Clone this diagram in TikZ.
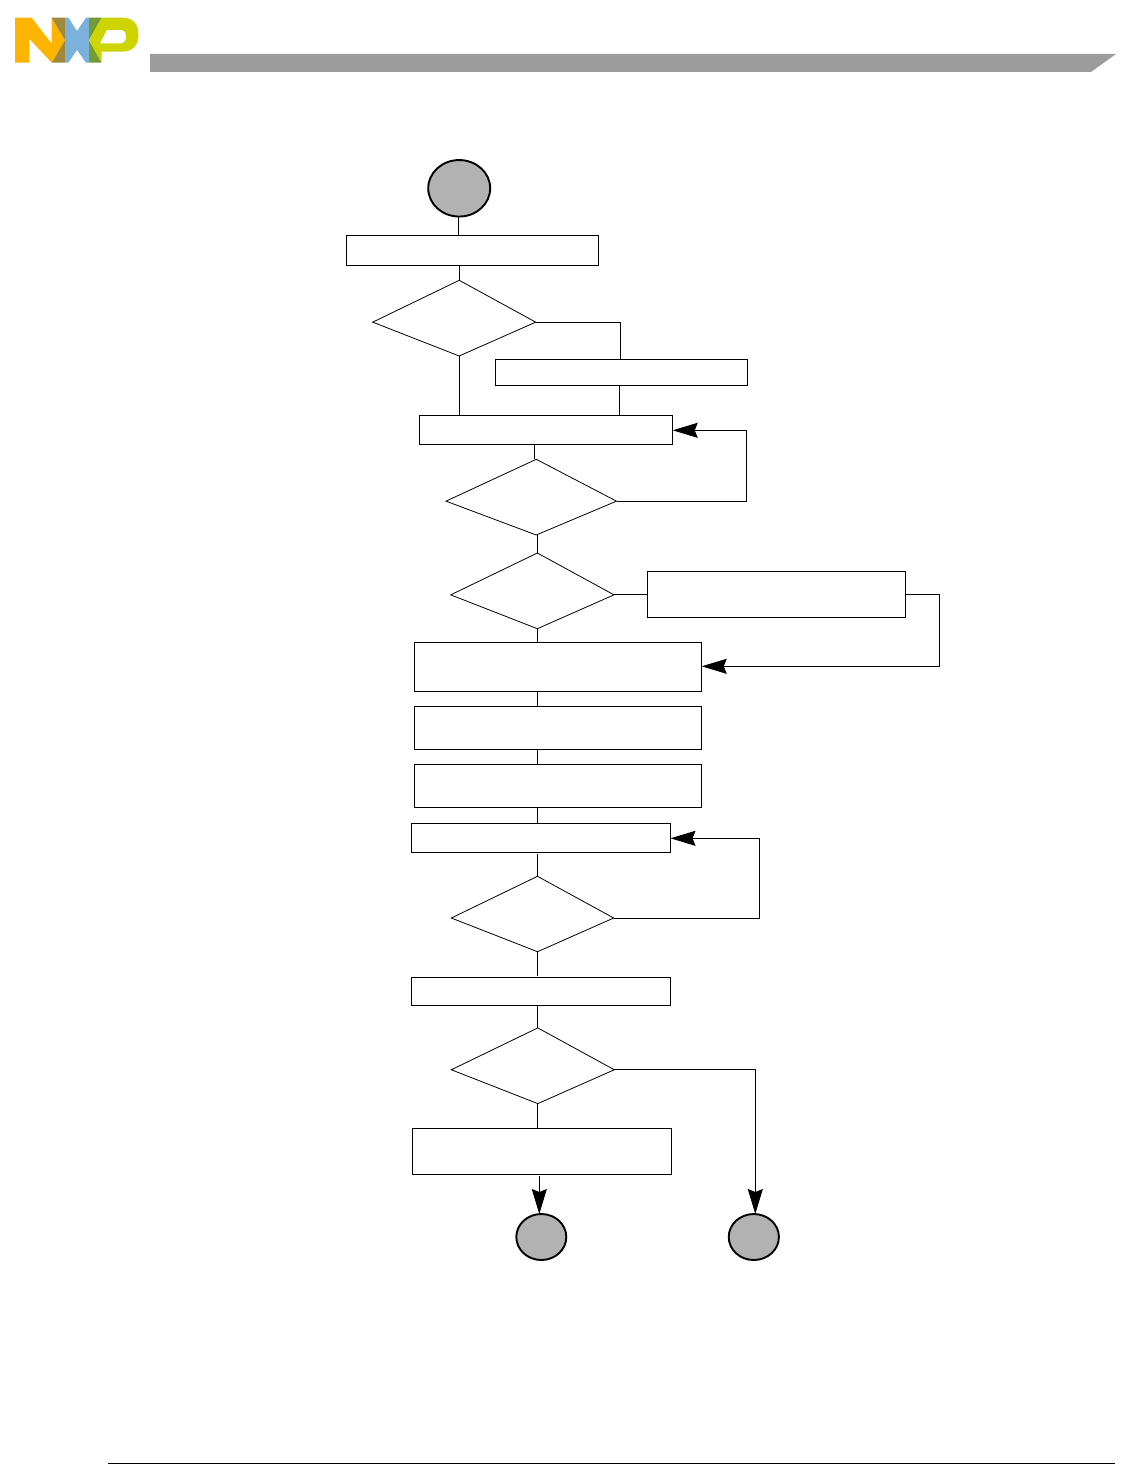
\documentclass[tikz,border=0pt]{standalone}
\usetikzlibrary{arrows.meta,shapes.geometric,calc}
\definecolor{hdrgray}{HTML}{9C9C9C}
\definecolor{capgray}{HTML}{B2B2B2}
\definecolor{nxporange}{HTML}{FFB500}
\definecolor{nxpolive}{HTML}{9E8A3A}
\definecolor{nxpblue}{HTML}{7BB1DB}
\definecolor{nxpgreen}{HTML}{739B35}
\definecolor{nxplime}{HTML}{CDD400}
\tikzset{
  boxnode/.style={rectangle,draw=black,line width=1pt,fill=white,inner sep=0pt,outer sep=0pt},
  capnode/.style={ellipse,draw=black,line width=1.9pt,fill=capgray,inner sep=0pt,outer sep=0pt},
  dianode/.style={rectangle,inner sep=0pt,outer sep=0pt},
  dialine/.style={draw=black,line width=0.8pt,line join=miter},
  link/.style={draw=black,line width=0.9pt},
  linkarrow/.style={link,-{Stealth[length=25pt,width=15pt,inset=3pt]}},
}
\newcommand{\diaoutline}[1]{%
  \coordinate (#1w) at ([yshift=-4pt]#1.west);
  \coordinate (#1e) at ([yshift=-4pt]#1.east);
  \coordinate (#1n) at ([xshift=5pt]#1.north);
  \coordinate (#1s) at ([xshift=5pt]#1.south);
  \draw[dialine] (#1w) -- (#1n) -- (#1e) -- (#1s) -- cycle;
}
\begin{document}
\begin{tikzpicture}[x=1pt,y=-1pt]
\useasboundingbox (0,0) rectangle (1127,1471);
% logo
\fill[nxporange] (15,17.7) -- (31.7,17.7) -- (51.7,43.7) -- (51.7,17.7) -- (65,40.3) -- (51.7,62.7) -- (29.3,38.7) -- (29.3,62.7) -- (15,62.7) -- cycle;
\fill[nxpolive] (51.7,17.7) -- (65,17.7) -- (65,40.3) -- cycle;
\fill[nxpolive] (51.7,62.7) -- (65,40.3) -- (65,62.7) -- cycle;
\fill[nxpblue] (65,17.7) -- (68.5,17.7) -- (77,31) -- (86,17.7) -- (89,17.7) -- (89,62.7) -- (86,62.7) -- (77,50) -- (68.5,62.7) -- (65,62.7) -- (65,40.3) -- cycle;
\fill[nxpgreen] (89,17.7) -- (101.7,17.7) -- (89,40.3) -- cycle;
\fill[nxpgreen] (89,40.3) -- (101.7,62.7) -- (89,62.7) -- cycle;
\fill[nxplime,even odd rule] (89,40.3) -- (101.7,17.7) -- (122,17.7) .. controls (133,17.7) and (138.5,24) .. (138.5,34.7) .. controls (138.5,45) and (133,51.7) .. (122,51.7) -- (101.7,51.7) -- (101.7,62.7) -- cycle
  (106.7,30) -- (121,30) .. controls (124.5,30) and (126,33) .. (126,36.5) .. controls (126,40) and (124.5,43.3) .. (121,43.3) -- (100,43.3) -- cycle;
% header bar
\fill[hdrgray] (150,54) -- (1116,54) -- (1091,72) -- (150,72) -- cycle;
% footer rule
\draw[black,line width=1.2pt] (108,1463.3) -- (1115,1463.3);

% terminals
\node[capnode,minimum width=62pt,minimum height=56.5pt] (start) at (459.2,188.3) {};
\node[capnode,minimum width=50pt,minimum height=46pt] (c2) at (541.3,1237) {};
\node[capnode,minimum width=50.2pt,minimum height=46pt] (c3) at (753.8,1237) {};
% boxes
\node[boxnode,minimum width=252.4pt,minimum height=30pt] (r1) at (472.5,250.3) {};
\node[boxnode,minimum width=252.4pt,minimum height=26pt] (r2) at (621.5,372.3) {};
\node[boxnode,minimum width=253.4pt,minimum height=29pt] (r3) at (546,429.8) {};
\node[boxnode,minimum width=258.4pt,minimum height=46pt] (r4) at (776.5,594.3) {};
\node[boxnode,minimum width=287.4pt,minimum height=49pt] (r5) at (558,666.8) {};
\node[boxnode,minimum width=287.4pt,minimum height=43pt] (r6) at (558,727.8) {};
\node[boxnode,minimum width=287.4pt,minimum height=43pt] (r7) at (558,785.8) {};
\node[boxnode,minimum width=259.2pt,minimum height=29pt] (r8) at (540.9,837.8) {};
\node[boxnode,minimum width=259.2pt,minimum height=28pt] (r9) at (540.9,991.3) {};
\node[boxnode,minimum width=259pt,minimum height=46pt] (r10) at (541.8,1151.3) {};
% decisions
\node[dianode,minimum width=163pt,minimum height=75.7pt] (d1) at (454.2,318.15) {};
\node[dianode,minimum width=170.5pt,minimum height=75.7pt] (d2) at (531.25,497.15) {};
\node[dianode,minimum width=163.3pt,minimum height=75.7pt] (d3) at (532.35,590.85) {};
\node[dianode,minimum width=162.4pt,minimum height=75.4pt] (d4) at (532.5,914) {};
\node[dianode,minimum width=163pt,minimum height=75.7pt] (d5) at (532.8,1065.75) {};
\diaoutline{d1}
\diaoutline{d2}
\diaoutline{d3}
\diaoutline{d4}
\diaoutline{d5}
% bend points
\coordinate (b2) at (746.7,430.3);
\coordinate (b4) at (939.3,666.3);
\coordinate (b8) at (759.3,838.3);
\coordinate (startout) at ([xshift=-0.7pt]start.south);
\coordinate (r2top) at ([xshift=-1.2pt]r2.north);
\coordinate (r2bot) at ([xshift=-2.2pt]r2.south);
\coordinate (r3top) at ([xshift=-1.4pt]d2n |- r3.south);
\coordinate (d2top) at ([xshift=-1.4pt]d2n);
\coordinate (r8gap) at ([yshift=-1.7pt]d4n |- r8.south);
\coordinate (d4gap) at ([yshift=1.7pt]d4n |- r9.north);
\coordinate (r10out) at ([xshift=-2.5pt,yshift=-1.7pt]r10.south);
\coordinate (c3top) at ([xshift=1.5pt]c3.north);
% connectors
\draw[link] (startout) -- (startout |- r1.north);
\draw[link] (d1n |- r1.south) -- (d1n);
\draw[link] (d1e) -| (r2top);
\draw[link] (d1s) -- (d1s |- r3.north);
\draw[link] (r2bot) -- (r2bot |- r3.north);
\draw[link] (r3top) -- (d2top);
\draw[linkarrow] (d2e) -| (b2) -- (r3.east |- b2);
\draw[link] (d3n |- d2s) -- (d3n);
\draw[link] (r4.west -| d3e) -- (r4.west);
\draw[linkarrow] (r4.east) -| (b4) -- (r5.east |- b4);
\draw[link] (d3s) -- (d3s |- r5.north);
\draw[link] (d3s |- r5.south) -- (d3s |- r6.north);
\draw[link] (d3s |- r6.south) -- (d3s |- r7.north);
\draw[link] (d3s |- r7.south) -- (d3s |- r8.north);
\draw[link] (r8gap) -- (d4n);
\draw[linkarrow] (d4e) -| (b8) -- (r8.east |- b8);
\draw[link] (d4s) -- (d4gap);
\draw[link] (d5n |- r9.south) -- (d5n);
\draw[link] (d5s) -- (d5s |- r10.north);
\draw[linkarrow] (r10out) -- (r10out |- c2.north);
\draw[linkarrow] (d5e) -| (c3top);
\end{tikzpicture}
\end{document}
